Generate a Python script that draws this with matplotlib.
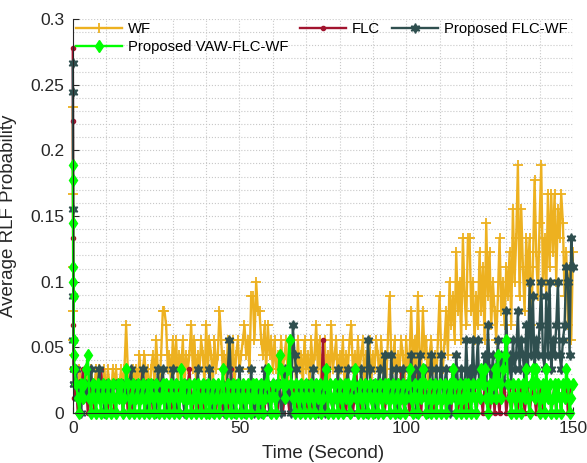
import numpy as np
import matplotlib
matplotlib.use('Agg')
import matplotlib.pyplot as plt
from matplotlib.ticker import MultipleLocator, FuncFormatter

plt.rcParams['font.family'] = ['Liberation Sans', 'DejaVu Sans']

# RLF counts in units of 1/90 (probability = count / 90)
# first 8 samples: start-up transient (t = 0 .. 0.35 s), then one sample every 0.5 s
wf_init = [21, 15, 10, 7, 5, 4, 3, 3]
flc_init = [25, 20, 12, 6, 4, 3, 2, 2]
flcwf_init = [24, 22, 14, 8, 5, 3, 3, 2]
vaw_init = [17, 16, 13, 10, 9, 8, 5, 4]

wf = [3, 2, 1, 3, 2, 1, 2, 3, 1, 2, 3, 1, 2, 3, 2, 3, 1, 2, 3, 1,
      3, 2, 1, 3, 2, 3, 1, 2, 3, 2, 3, 6, 3, 2, 1, 3, 2, 3, 2, 4,
      2, 3, 4, 2, 3, 1, 3, 4, 2, 5, 3, 2, 4, 7, 7, 6, 3, 4, 2, 5,
      3, 5, 2, 4, 3, 5, 2, 4, 3, 4, 6, 3, 5, 2, 4, 3, 5, 4, 2, 6,
      3, 5, 4, 2, 5, 3, 4, 7, 5, 3, 4, 2, 5, 4, 3, 5, 2, 4, 5, 3,
      4, 5, 6, 4, 5, 3, 8, 8, 5, 9, 7, 7, 5, 4, 6, 3, 6, 4, 5, 3,
      5, 3, 4, 2, 5, 3, 4, 5, 2, 4, 3, 5, 4, 2, 5, 3, 4, 2, 5, 3,
      4, 2, 5, 3, 4, 6, 3, 5, 2, 4, 5, 3, 4, 2, 6, 3, 4, 5, 2, 4,
      3, 5, 2, 4, 3, 5, 6, 3, 4, 2, 5, 3, 4, 5, 2, 4, 3, 5, 2, 4,
      3, 5, 4, 2, 5, 3, 4, 2, 5, 8, 4, 3, 5, 2, 4, 3, 5, 4, 2, 5,
      3, 4, 7, 3, 5, 2, 8, 4, 3, 7, 4, 5, 2, 4, 5, 3, 4, 2, 5, 8,
      4, 3, 5, 7, 4, 9, 6, 8, 5, 11, 7, 9, 5, 12, 8, 6, 12, 12, 7, 9,
      5, 8, 6, 11, 7, 10, 5, 13, 8, 11, 6, 9, 7, 5, 8, 12, 7, 9, 6, 10,
      8, 11, 6, 14, 9, 12, 17, 8, 14, 10, 7, 12, 9, 12, 6, 10, 16, 11, 8, 13,
      17, 9, 12, 8, 15, 10, 15, 11, 15, 9, 14, 12, 15, 13, 8, 11, 6, 10, 5, 11]

flc = [1, 2, 0, 2, 1, 3, 1, 2, 0, 1, 2, 1, 0, 2, 1, 2, 3, 1, 2, 1,
       0, 2, 1, 2, 0, 1, 2, 1, 2, 0, 1, 2, 0, 2, 1, 0, 2, 1, 2, 0,
       2, 3, 1, 0, 2, 1, 2, 0, 1, 2, 1, 0, 2, 1, 2, 0, 1, 2, 0, 1,
       2, 1, 0, 2, 1, 2, 0, 1, 2, 3, 1, 0, 2, 1, 0, 2, 1, 2, 0, 1,
       2, 0, 1, 2, 1, 0, 2, 1, 2, 0, 1, 2, 0, 1, 3, 1, 0, 2, 1, 2,
       0, 1, 2, 0, 2, 1, 0, 2, 1, 2, 0, 1, 2, 1, 0, 2, 1, 0, 2, 1,
       2, 1, 0, 2, 1, 0, 1, 2, 1, 0, 2, 1, 2, 0, 1, 2, 0, 2, 1, 0,
       1, 2, 0, 1, 2, 1, 0, 2, 1, 5, 2, 0, 1, 2, 1, 0, 2, 1, 2, 0,
       1, 2, 1, 0, 2, 1, 2, 0, 1, 3, 1, 2, 0, 1, 2, 0, 1, 2, 1, 0,
       2, 1, 0, 2, 1, 2, 0, 1, 2, 0, 1, 2, 1, 0, 2, 1, 3, 1, 0, 2,
       1, 0, 2, 1, 2, 0, 3, 1, 0, 2, 1, 2, 0, 1, 2, 1, 0, 2, 1, 2,
       0, 1, 2, 0, 2, 1, 0, 2, 1, 2, 0, 1, 2, 1, 0, 2, 1, 0, 2, 1,
       2, 0, 1, 2, 1, 0, 2, 1, 2, 0, 1, 2, 0, 2, 1, 0, 2, 1, 2, 0,
       1, 2, 0, 1, 2, 1, 0, 2, 1, 2, 0, 1, 2, 0, 1, 2, 1, 0, 2, 1,
       2, 0, 1, 2, 1, 2, 0, 1, 2, 0, 2, 1, 0, 2, 1, 2, 0, 1, 2, 2]

flcwf = [2, 3, 1, 2, 0, 2, 1, 2, 1, 2, 3, 1, 2, 1, 2, 3, 1, 2, 0, 2,
         2, 2, 1, 2, 2, 2, 1, 2, 2, 2, 1, 2, 1, 2, 3, 1, 0, 2, 1, 2,
         1, 3, 1, 2, 0, 2, 1, 2, 1, 0, 3, 1, 2, 3, 1, 2, 0, 1, 2, 3,
         1, 2, 0, 1, 2, 1, 0, 2, 1, 2, 0, 1, 2, 1, 3, 1, 0, 2, 1, 2,
         1, 3, 1, 0, 2, 1, 2, 0, 1, 2, 0, 1, 3, 5, 2, 1, 0, 2, 1, 3,
         1, 2, 0, 1, 2, 1, 3, 1, 0, 2, 1, 2, 0, 1, 3, 1, 2, 0, 1, 2,
         1, 2, 1, 2, 0, 1, 3, 2, 1, 2, 0, 6, 4, 3, 1, 2, 0, 1, 2, 1,
         2, 0, 1, 3, 1, 2, 0, 1, 2, 1, 0, 3, 1, 2, 1, 0, 2, 1, 3, 1,
         2, 0, 1, 2, 3, 1, 0, 2, 1, 2, 0, 1, 3, 1, 2, 0, 5, 3, 1, 2,
         0, 1, 2, 3, 1, 2, 4, 1, 2, 0, 4, 2, 1, 3, 0, 2, 1, 3, 1, 2,
         1, 2, 4, 1, 3, 0, 2, 4, 1, 2, 3, 1, 0, 2, 4, 2, 1, 3, 1, 2,
         4, 1, 2, 3, 1, 0, 2, 3, 1, 4, 2, 1, 3, 2, 1, 5, 2, 3, 1, 5,
         2, 3, 5, 1, 3, 2, 4, 1, 6, 3, 2, 4, 1, 3, 5, 2, 4, 3, 2, 7,
         3, 4, 2, 5, 3, 4, 7, 3, 5, 4, 2, 6, 3, 9, 4, 8, 3, 5, 4, 6,
         9, 4, 3, 8, 4, 9, 3, 5, 4, 6, 9, 4, 3, 5, 6, 10, 9, 4, 12, 10]

vaw = [3, 2, 1, 0, 2, 1, 2, 3, 4, 1, 0, 2, 1, 0, 2, 1, 0, 2, 1, 0,
       2, 1, 0, 2, 1, 0, 2, 1, 2, 0, 1, 3, 2, 0, 1, 2, 0, 1, 2, 0,
       1, 2, 0, 1, 2, 0, 2, 1, 0, 2, 1, 0, 1, 2, 0, 2, 1, 0, 2, 1,
       0, 2, 1, 0, 3, 1, 2, 0, 1, 2, 0, 1, 2, 0, 2, 1, 0, 2, 1, 0,
       2, 0, 1, 2, 0, 1, 2, 0, 1, 3, 1, 0, 2, 1, 0, 2, 1, 0, 2, 1,
       0, 2, 1, 0, 2, 1, 0, 2, 1, 2, 0, 1, 2, 0, 1, 2, 3, 1, 0, 2,
       1, 0, 2, 4, 3, 2, 1, 2, 3, 5, 2, 1, 0, 2, 1, 0, 2, 1, 0, 2,
       1, 0, 2, 1, 0, 2, 1, 2, 0, 1, 2, 3, 0, 2, 1, 0, 2, 1, 0, 2,
       1, 0, 2, 1, 2, 0, 1, 2, 3, 1, 0, 2, 1, 0, 2, 1, 0, 2, 1, 0,
       2, 1, 0, 2, 1, 0, 2, 1, 2, 0, 1, 2, 0, 1, 2, 0, 1, 2, 0, 1,
       2, 3, 1, 0, 2, 1, 0, 2, 1, 3, 2, 0, 1, 2, 0, 1, 2, 0, 1, 2,
       0, 1, 2, 0, 1, 2, 1, 3, 2, 0, 1, 2, 0, 1, 2, 0, 2, 1, 0, 2,
       1, 0, 2, 1, 3, 2, 3, 1, 0, 2, 1, 2, 3, 1, 4, 2, 1, 3, 4, 5,
       2, 1, 0, 2, 1, 0, 2, 1, 0, 2, 1, 3, 1, 0, 2, 3, 1, 3, 2, 0,
       1, 2, 0, 3, 1, 2, 0, 1, 2, 0, 2, 1, 0, 2, 1, 3, 2, 0, 1, 2]

time = np.concatenate([np.arange(8) * 0.05, np.arange(1, 301) * 0.5])


def prob(init, vals):
    return np.array(init + vals) / 90.0


fig = plt.figure(figsize=(5.87, 4.63), dpi=100)
ax = fig.add_axes([0.124, 0.108, 0.852, 0.851])

l_wf, = ax.plot(time, prob(wf_init, wf), color='#EDB120', lw=1.7, marker='+', ms=7, mew=1.3, clip_on=False)
l_flc, = ax.plot(time, prob(flc_init, flc), color='#A2142F', lw=1.7, marker='.', ms=6, clip_on=False)
l_flcwf, = ax.plot(time, prob(flcwf_init, flcwf), color='#2F4F4F', lw=1.7, marker=(6, 1, 0), ms=7, clip_on=False)
l_vaw, = ax.plot(time, prob(vaw_init, vaw), color='#00FF00', lw=1.7, marker='d', ms=6, clip_on=False)

ax.set_xlim(0, 150)
ax.set_ylim(0, 0.3)
ax.xaxis.set_major_locator(MultipleLocator(50))
ax.xaxis.set_minor_locator(MultipleLocator(10))
ax.yaxis.set_major_locator(MultipleLocator(0.05))
ax.yaxis.set_minor_locator(MultipleLocator(0.01))
ax.yaxis.set_major_formatter(FuncFormatter(lambda v, p: '%g' % round(v, 3)))
ax.grid(True, which='both', ls=':', color='#c8c8c8', lw=0.8)
ax.set_axisbelow(True)
for s in ['top', 'right']:
    ax.spines[s].set_visible(False)
for s in ['left', 'bottom']:
    ax.spines[s].set_color('#262626')
    ax.spines[s].set_linewidth(0.8)
ax.tick_params(which='major', direction='in', length=4, labelsize=12.5, colors='#262626', pad=6)
ax.tick_params(which='minor', length=0)

ax.set_xlabel('Time (Second)', fontsize=13.5, color='#262626', labelpad=6)
ax.set_ylabel('Average RLF Probability', fontsize=13.5, color='#262626', labelpad=10)

ax.legend([l_wf, l_vaw, l_flc, l_flcwf],
          ['WF', 'Proposed VAW-FLC-WF', 'FLC', 'Proposed FLC-WF'],
          ncol=3, loc='upper left', bbox_to_anchor=(0.0, 1.0), frameon=False,
          fontsize=10.7, handlelength=3.1, columnspacing=0.8, handletextpad=0.4,
          labelspacing=0.3, borderaxespad=0.0, borderpad=0.2)

fig.savefig('out.png', dpi=100)
